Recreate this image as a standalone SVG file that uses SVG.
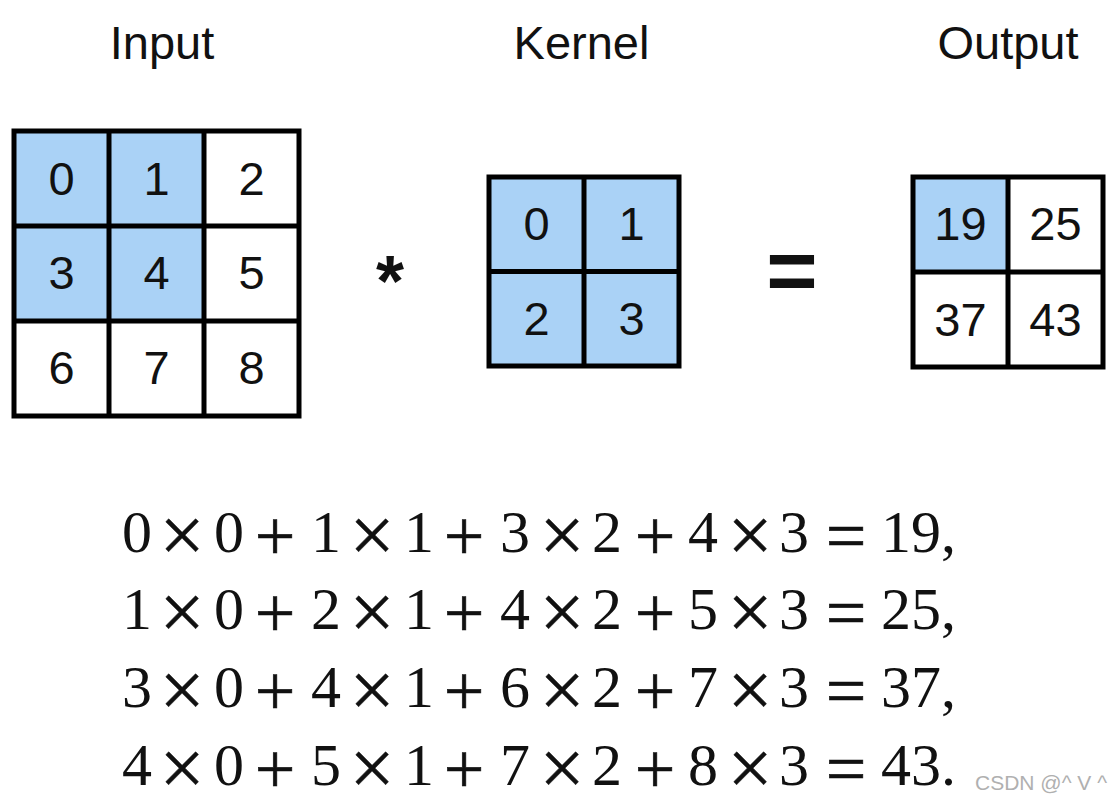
<svg xmlns="http://www.w3.org/2000/svg" width="1112" height="805" viewBox="0 0 1112 805">
<style>
.bg{fill:#ffffff}
.hl{fill:#aad2f6}
.wt{fill:#ffffff}
.grid{fill:none;stroke:#000000;stroke-width:5;stroke-linecap:square}
.title{font-family:"Liberation Sans",Arial,sans-serif;font-size:47px;fill:#111111;text-anchor:middle}
.num{font-family:"Liberation Sans",Arial,sans-serif;font-size:47px;fill:#111111;text-anchor:middle}
.op{font-family:"Liberation Sans",Arial,sans-serif;font-weight:bold;fill:#111111;text-anchor:middle}
.eq{font-family:"Liberation Serif","Times New Roman",serif;font-size:60px;fill:#111111;text-anchor:middle}
.x{font-size:80px;stroke:#111111;stroke-width:0.5}
.p{font-size:72px;stroke:#111111;stroke-width:0.6}
.e{font-size:72px;stroke:#111111;stroke-width:0.6}
.res{font-family:"Liberation Serif","Times New Roman",serif;font-size:60px;fill:#111111}
.wm{font-family:"Liberation Sans",Arial,sans-serif;font-size:21px;fill:#b0b0b0}
</style>
<rect class="bg" x="0" y="0" width="1112" height="805"/>

<g id="input">
  <text class="title" x="162" y="59">Input</text>
  <rect class="hl" x="14" y="131" width="190" height="190"/>
  <rect class="wt" x="204" y="131" width="95" height="285"/>
  <rect class="wt" x="14" y="321" width="190" height="95"/>
  <path class="grid" d="M14,131H299V416H14Z M109,131V416 M204,131V416 M14,226H299 M14,321H299"/>
  <text class="num" x="61.5" y="195">0</text>
  <text class="num" x="156.5" y="195">1</text>
  <text class="num" x="251.5" y="195">2</text>
  <text class="num" x="61.5" y="289">3</text>
  <text class="num" x="156.5" y="289">4</text>
  <text class="num" x="251.5" y="289">5</text>
  <text class="num" x="61.5" y="384">6</text>
  <text class="num" x="156.5" y="384">7</text>
  <text class="num" x="251.5" y="384">8</text>
</g>

<g id="conv-operator">
  <text class="op" x="390" y="306" font-size="72">*</text>
</g>

<g id="kernel">
  <text class="title" x="581.5" y="59">Kernel</text>
  <rect class="hl" x="489" y="177" width="190" height="189"/>
  <path class="grid" d="M489,177H679V366H489Z M584,177V366 M489,271.5H679"/>
  <text class="num" x="536.5" y="240">0</text>
  <text class="num" x="631.5" y="240">1</text>
  <text class="num" x="536.5" y="335">2</text>
  <text class="num" x="631.5" y="335">3</text>
</g>

<g id="equals-operator">
  <text class="op" x="792" y="300" font-size="88">=</text>
</g>

<g id="output">
  <text class="title" x="1008" y="59">Output</text>
  <rect class="wt" x="913" y="177" width="190" height="190"/>
  <rect class="hl" x="913" y="177" width="95" height="95"/>
  <path class="grid" d="M913,177H1103V367H913Z M1008,177V367 M913,272H1103"/>
  <text class="num" x="960.5" y="240">19</text>
  <text class="num" x="1055.5" y="240">25</text>
  <text class="num" x="960.5" y="336">37</text>
  <text class="num" x="1055.5" y="336">43</text>
</g>

<g id="connectors"></g>

<g id="equations">
  <text class="eq"><tspan x="137" y="552">0</tspan><tspan class="x" x="182" y="562">×</tspan><tspan x="229" y="552">0</tspan><tspan class="p" x="275" y="560">+</tspan><tspan x="326" y="552">1</tspan><tspan class="x" x="372" y="562">×</tspan><tspan x="419" y="552">1</tspan><tspan class="p" x="464" y="560">+</tspan><tspan x="515" y="552">3</tspan><tspan class="x" x="562" y="562">×</tspan><tspan x="607" y="552">2</tspan><tspan class="p" x="655" y="560">+</tspan><tspan x="703" y="552">4</tspan><tspan class="x" x="750" y="562">×</tspan><tspan x="794" y="552">3</tspan><tspan class="e" x="846" y="560">=</tspan></text>
  <text class="res" x="881" y="552">19,</text>
  <text class="eq"><tspan x="137" y="629">1</tspan><tspan class="x" x="182" y="639">×</tspan><tspan x="229" y="629">0</tspan><tspan class="p" x="275" y="637">+</tspan><tspan x="326" y="629">2</tspan><tspan class="x" x="372" y="639">×</tspan><tspan x="419" y="629">1</tspan><tspan class="p" x="464" y="637">+</tspan><tspan x="515" y="629">4</tspan><tspan class="x" x="562" y="639">×</tspan><tspan x="607" y="629">2</tspan><tspan class="p" x="655" y="637">+</tspan><tspan x="703" y="629">5</tspan><tspan class="x" x="750" y="639">×</tspan><tspan x="794" y="629">3</tspan><tspan class="e" x="846" y="637">=</tspan></text>
  <text class="res" x="881" y="629">25,</text>
  <text class="eq"><tspan x="137" y="707">3</tspan><tspan class="x" x="182" y="717">×</tspan><tspan x="229" y="707">0</tspan><tspan class="p" x="275" y="715">+</tspan><tspan x="326" y="707">4</tspan><tspan class="x" x="372" y="717">×</tspan><tspan x="419" y="707">1</tspan><tspan class="p" x="464" y="715">+</tspan><tspan x="515" y="707">6</tspan><tspan class="x" x="562" y="717">×</tspan><tspan x="607" y="707">2</tspan><tspan class="p" x="655" y="715">+</tspan><tspan x="703" y="707">7</tspan><tspan class="x" x="750" y="717">×</tspan><tspan x="794" y="707">3</tspan><tspan class="e" x="846" y="715">=</tspan></text>
  <text class="res" x="881" y="707">37,</text>
  <text class="eq"><tspan x="137" y="785">4</tspan><tspan class="x" x="182" y="795">×</tspan><tspan x="229" y="785">0</tspan><tspan class="p" x="275" y="793">+</tspan><tspan x="326" y="785">5</tspan><tspan class="x" x="372" y="795">×</tspan><tspan x="419" y="785">1</tspan><tspan class="p" x="464" y="793">+</tspan><tspan x="515" y="785">7</tspan><tspan class="x" x="562" y="795">×</tspan><tspan x="607" y="785">2</tspan><tspan class="p" x="655" y="793">+</tspan><tspan x="703" y="785">8</tspan><tspan class="x" x="750" y="795">×</tspan><tspan x="794" y="785">3</tspan><tspan class="e" x="846" y="793">=</tspan></text>
  <text class="res" x="881" y="785">43.</text>
</g>

<text class="wm" x="975" y="790">CSDN @^ V ^</text>
</svg>
